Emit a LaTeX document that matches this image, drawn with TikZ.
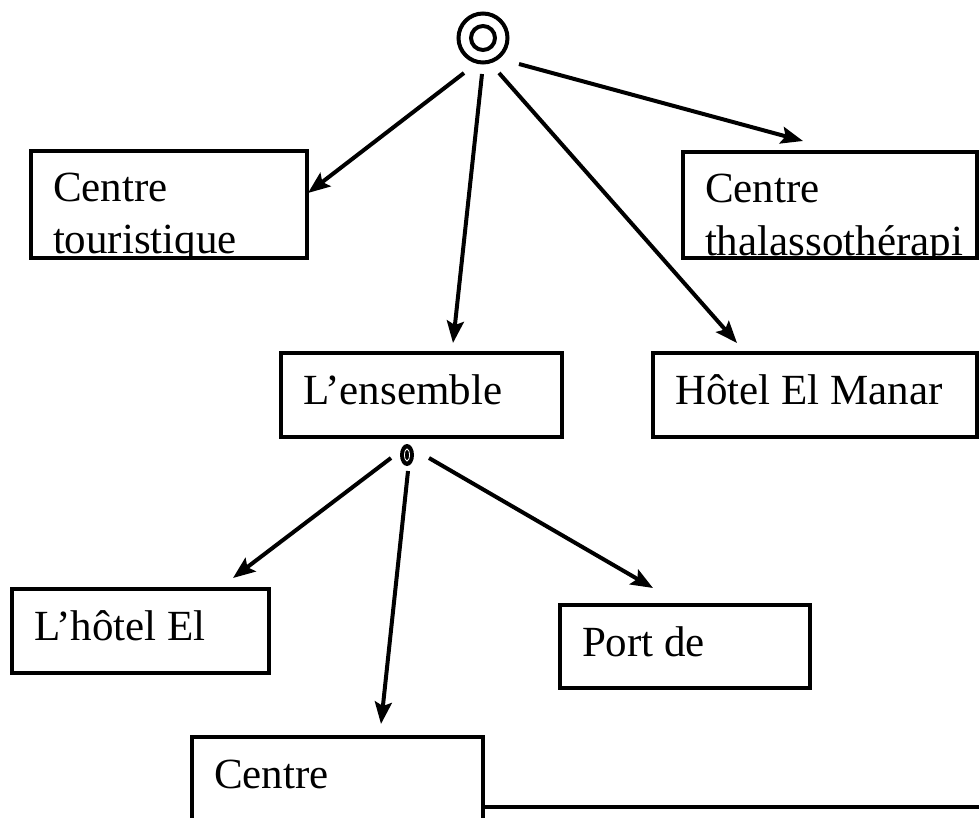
\documentclass[tikz,border=0pt]{standalone}
\usepackage{fontspec}
\setmainfont{Liberation Serif}
\usetikzlibrary{arrows.meta,shapes.geometric}
\begin{document}
\begin{tikzpicture}[x=1pt,y=-1pt,
        boite/.style={draw,rectangle,line width=4.2pt,anchor=north west,inner sep=0pt,outer sep=0pt},
        texte/.style={draw=none,minimum width=0pt,minimum height=0pt,anchor=base west,inner sep=0pt,font=\fontsize{43}{50}\selectfont},
        ligne/.style={path picture={\node[texte] at ([shift={(22,51)}]path picture bounding box.north west) {#1};}},
        lignes/.style 2 args={path picture={\node[texte] at ([shift={(22,51)}]path picture bounding box.north west) {#1};
                \node[texte] at ([shift={(22,103)}]path picture bounding box.north west) {#2};}},
        fleche/.style={-{Stealth[length=22pt,width=17pt,inset=4pt]},line width=4pt}]
        \clip (0,0) rectangle (979,818);
        % les deux points de depart
        \node[draw,circle,line width=4pt,minimum size=49pt,inner sep=0pt] (racine) at (483,38) {};
        \draw[line width=4pt] (racine) circle (12pt);
        \node[ellipse,fill,minimum width=14pt,minimum height=22pt,inner sep=0pt] (noeud) at (407,455) {};
        \draw[white,line width=0.8pt] (noeud) ellipse (2.5pt and 6pt);
        % les cadres
        \node[boite,minimum width=276pt,minimum height=107pt,lignes={Centre}{touristique}] (tour) at (31,151) {};
        \node[boite,minimum width=294pt,minimum height=106pt,lignes={Centre}{thalassothérapi}] (thal) at (683,152) {};
        \node[boite,minimum width=281pt,minimum height=84pt,ligne={L’ensemble}] (ens) at (281,353) {};
        \node[boite,minimum width=324pt,minimum height=84pt,ligne={Hôtel El Manar}] (hotel) at (653,353) {};
        \node[boite,minimum width=257pt,minimum height=84pt,ligne={L’hôtel El}] (lhotel) at (12,589) {};
        \node[boite,minimum width=250pt,minimum height=83pt,ligne={Port de}] (port) at (560,605) {};
        \node[boite,minimum width=291pt,minimum height=120pt,ligne={Centre}] (centre) at (192,737) {};
        \coordinate (bordure) at (990,807);
        \draw[line width=4.2pt] (centre.east |- bordure) -- (bordure);
        % les fleches
        \draw[fleche] ([shift={(-19,35)}]racine.center) -- ([shift={(1,-11.5)}]tour.east);
        \draw[fleche] ([shift={(-1,36)}]racine.center) -- ([shift={(172,-10)}]ens.north west);
        \draw[fleche] ([shift={(16,35)}]racine.center) -- ([shift={(84,-10)}]hotel.north west);
        \draw[fleche] ([shift={(36,26)}]racine.center) -- ([shift={(120,-11)}]thal.north west);
        \draw[fleche] ([shift={(-16,3)}]noeud.center) -- ([shift={(221,-11)}]lhotel.north west);
        \draw[fleche] ([shift={(1,16)}]noeud.center) -- ([shift={(189,-13)}]centre.north west);
        \draw[fleche] ([shift={(22,3)}]noeud.center) -- ([shift={(93,-17)}]port.north west);
\end{tikzpicture}
\end{document}
